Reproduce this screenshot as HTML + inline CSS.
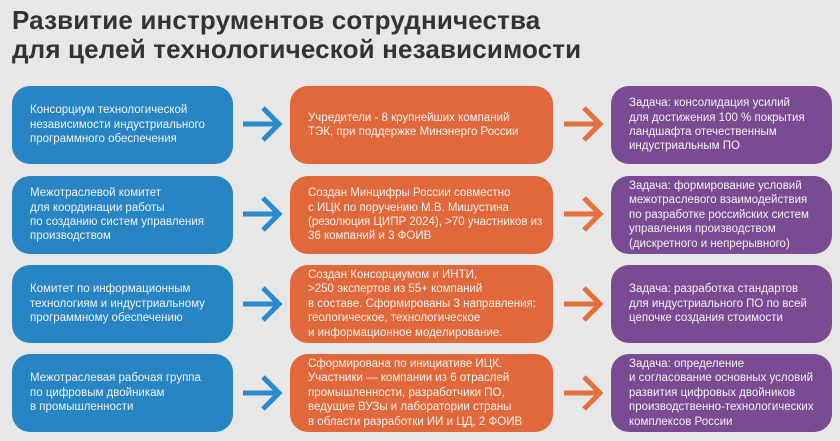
<!DOCTYPE html>
<html><head><meta charset="utf-8"><style>
body{margin:0;width:840px;height:441px;background:#e7e7e7;font-family:"Liberation Sans",sans-serif;position:relative;overflow:hidden}
h1{position:absolute;left:12px;top:6px;margin:0;font-size:26px;line-height:29px;color:#333;font-weight:bold;letter-spacing:0.15px}
.b{position:absolute;border-radius:18px;color:#f2f2f2;font-size:11.5px;line-height:14.4px;display:flex;align-items:center;box-sizing:border-box;padding:0 4px 0 18px;white-space:nowrap}
.bl{left:12px;width:221px;background:#2785c4}
.or{left:290px;width:263px;background:#e1683a}
.pu{left:611px;width:221px;background:#7a4b93}
svg{position:absolute}
</style></head><body>
<h1>Развитие инструментов сотрудничества<br>для целей технологической независимости</h1>

<div class="b bl" style="top:86px;height:78px">Консорциум технологической<br>независимости индустриального<br>программного обеспечения</div>
<div class="b or" style="top:86px;height:78px">Учредители - 8 крупнейших компаний<br>ТЭК, при поддержке Минэнерго России</div>
<div class="b pu" style="top:86px;height:78px">Задача: консолидация усилий<br>для достижения 100 % покрытия<br>ландшафта отечественным<br>индустриальным ПО</div>

<div class="b bl" style="top:176px;height:78px">Межотраслевой комитет<br>для координации работы<br>по созданию систем управления<br>производством</div>
<div class="b or" style="top:176px;height:78px">Создан Минцифры России совместно<br>с ИЦК по поручению М.В. Мишустина<br>(резолюция ЦИПР 2024), &gt;70 участников из<br>36 компаний и 3 ФОИВ</div>
<div class="b pu" style="top:176px;height:78px">Задача: формирование условий<br>межотраслевого взаимодействия<br>по разработке российских систем<br>управления производством<br>(дискретного и непрерывного)</div>

<div class="b bl" style="top:265px;height:78px">Комитет по информационным<br>технологиям и индустриальному<br>программному обеспечению</div>
<div class="b or" style="top:265px;height:78px">Создан Консорциумом и ИНТИ,<br>&gt;250 экспертов из 55+ компаний<br>в составе. Сформированы 3 направления:<br>геологическое, технологическое<br>и информационное моделирование.</div>
<div class="b pu" style="top:265px;height:78px">Задача: разработка стандартов<br>для индустриального ПО по всей<br>цепочке создания стоимости</div>

<div class="b bl" style="top:354px;height:78px">Межотраслевая рабочая группа<br>по цифровым двойникам<br>в промышленности</div>
<div class="b or" style="top:354px;height:78px">Сформирована по инициативе ИЦК.<br>Участники — компании из 6 отраслей<br>промышленности, разработчики ПО,<br>ведущие ВУЗы и лаборатории страны<br>в области разработки ИИ и ЦД, 2 ФОИВ</div>
<div class="b pu" style="top:354px;height:78px">Задача: определение<br>и согласование основных условий<br>развития цифровых двойников<br>производственно-технологических<br>комплексов России</div>

<svg width="840" height="441" style="left:0;top:0">
<g fill="none" stroke-width="5" stroke-linecap="butt">
<g stroke="#2a8ad0">
<path d="M243 124H278M263 108L279 124L263 140"/>
<path d="M243 214H278M263 198L279 214L263 230"/>
<path d="M243 304H278M263 288L279 304L263 320"/>
<path d="M243 393H278M263 377L279 393L263 409"/>
</g>
<g stroke="#e4703f">
<path d="M564 124H599M584 108L600 124L584 140"/>
<path d="M564 214H599M584 198L600 214L584 230"/>
<path d="M564 304H599M584 288L600 304L584 320"/>
<path d="M564 393H599M584 377L600 393L584 409"/>
</g>
</g>
</svg>
</body></html>
